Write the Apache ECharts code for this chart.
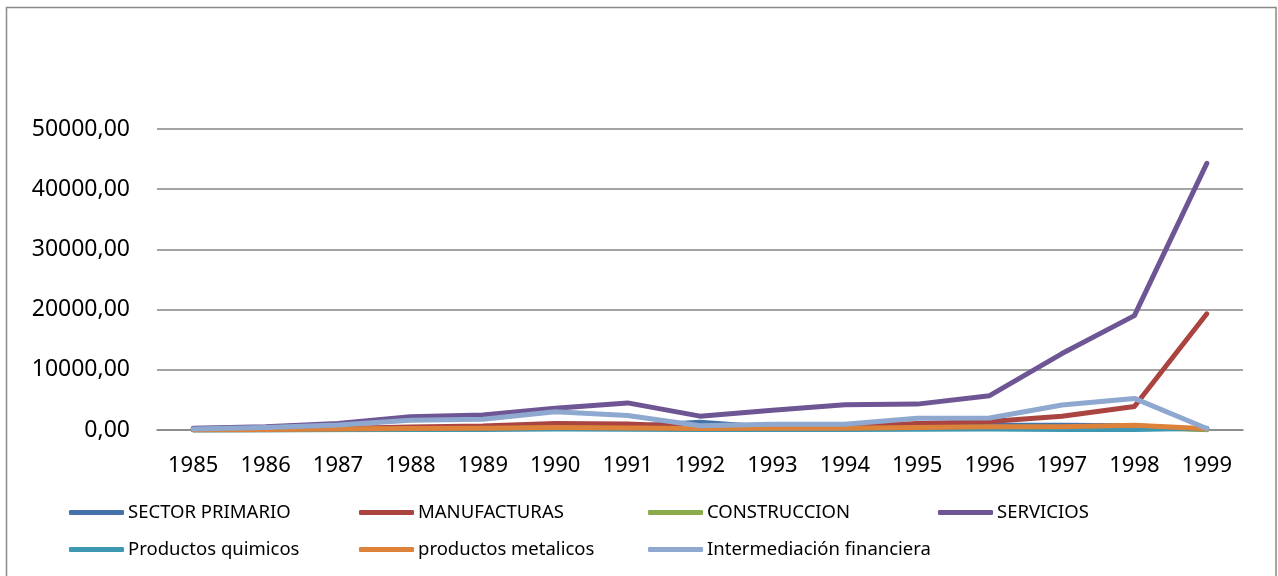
<!DOCTYPE html>
<html>
<head>
<meta charset="utf-8">
<script src="https://cdn.jsdelivr.net/npm/echarts@6/dist/echarts.min.js"></script>
<style>
  html, body { margin: 0; padding: 0; background: #ffffff; }
  #chart { width: 1278px; height: 576px; }
</style>
</head>
<body>
<div id="chart"></div>
<script>
// Years on the category axis
const years = ['1985','1986','1987','1988','1989','1990','1991','1992','1993','1994','1995','1996','1997','1998','1999'];

// Series values per sector
const sectorPrimario = [30, 60, 120, 250, 300, 500, 600, 1300, 400, 350, 500, 800, 800, 700, 50];
const manufacturas   = [50, 100, 250, 500, 650, 1100, 1000, 550, 500, 550, 1100, 1400, 2300, 3900, 19300];
const construccion   = [20, 40, 80, 150, 200, 300, 250, 150, 150, 200, 250, 300, 350, 400, 100];
const servicios      = [280, 550, 1100, 2200, 2500, 3600, 4500, 2300, 3300, 4200, 4300, 5700, 12700, 19000, 44300];
const quimicos       = [10, 20, 40, 80, 100, 150, 130, 80, 90, 100, 120, 150, 100, 100, 300];
const metalicos      = [50, 80, 150, 250, 300, 400, 350, 250, 300, 300, 400, 550, 550, 800, 200];
const intermediacion = [170, 400, 830, 1600, 1800, 3050, 2400, 700, 950, 950, 1950, 2000, 4150, 5250, 250];

// Value axis ticks
const yTicks = [0, 10000, 20000, 30000, 40000, 50000];

const seriesDefs = [
  { name: 'SECTOR PRIMARIO', data: sectorPrimario, color: '#4572A9' },
  { name: 'MANUFACTURAS', data: manufacturas, color: '#AA4440' },
  { name: 'CONSTRUCCION', data: construccion, color: '#8BAA4C' },
  { name: 'SERVICIOS', data: servicios, color: '#6E5593' },
  { name: 'Productos quimicos', data: quimicos, color: '#3E98B2' },
  { name: 'productos metalicos', data: metalicos, color: '#DC823A' },
  { name: 'Intermediación financiera', data: intermediacion, color: '#8EA8CF' }
];

const FONT = '"Noto Sans", "Open Sans", sans-serif';

// Legend grid: 4 columns, 2 rows
const legendCols = [69, 359, 648, 938];
const legendRows = [503, 540];

const legends = seriesDefs.map((s, i) => ({
  data: [s.name],
  left: legendCols[i % 4],
  top: legendRows[Math.floor(i / 4)],
  orient: 'horizontal',
  itemWidth: 55,
  itemHeight: 5,
  itemGap: 0,
  icon: 'roundRect',
  selectedMode: false,
  padding: 0,
  textStyle: { fontFamily: FONT, fontSize: 18.5, color: '#000000', padding: [0, 0, 0, -1] }
}));

const chart = echarts.init(document.getElementById('chart'), null, { renderer: 'canvas' });
chart.setOption({
  animation: false,
  backgroundColor: '#ffffff',
  color: seriesDefs.map(s => s.color),
  graphic: [{
    type: 'rect',
    shape: { x: 6.5, y: 7.5, width: 1269.5, height: 620 },
    style: { fill: 'none', stroke: '#8a8a8a', lineWidth: 1.5 },
    z: -1
  }],
  legend: legends,
  grid: { left: 157, right: 35, top: 129, bottom: 146, containLabel: false },
  xAxis: {
    type: 'category',
    data: years,
    boundaryGap: true,
    axisLine: { show: true, lineStyle: { color: '#868686', width: 1.5 } },
    axisTick: { show: false },
    axisLabel: { fontFamily: FONT, fontSize: 22, color: '#000000', margin: 25 },
    splitLine: { show: false }
  },
  yAxis: {
    type: 'value',
    min: yTicks[0],
    max: yTicks[yTicks.length - 1],
    interval: yTicks[1] - yTicks[0],
    axisLine: { show: false },
    axisTick: { show: false },
    axisLabel: {
      fontFamily: FONT, fontSize: 23, color: '#000000', margin: 27,
      formatter: v => v.toFixed(2).replace('.', ',')
    },
    splitLine: { show: true, lineStyle: { color: '#868686', width: 1.5 } }
  },
  series: seriesDefs.map((s, i) => ({
    name: s.name,
    type: 'line',
    data: s.data,
    showSymbol: false,
    symbol: 'none',
    z: 2 + i,
    lineStyle: { color: s.color, width: 5, cap: 'round', join: 'round' },
    itemStyle: { color: s.color }
  }))
});
</script>
</body>
</html>
